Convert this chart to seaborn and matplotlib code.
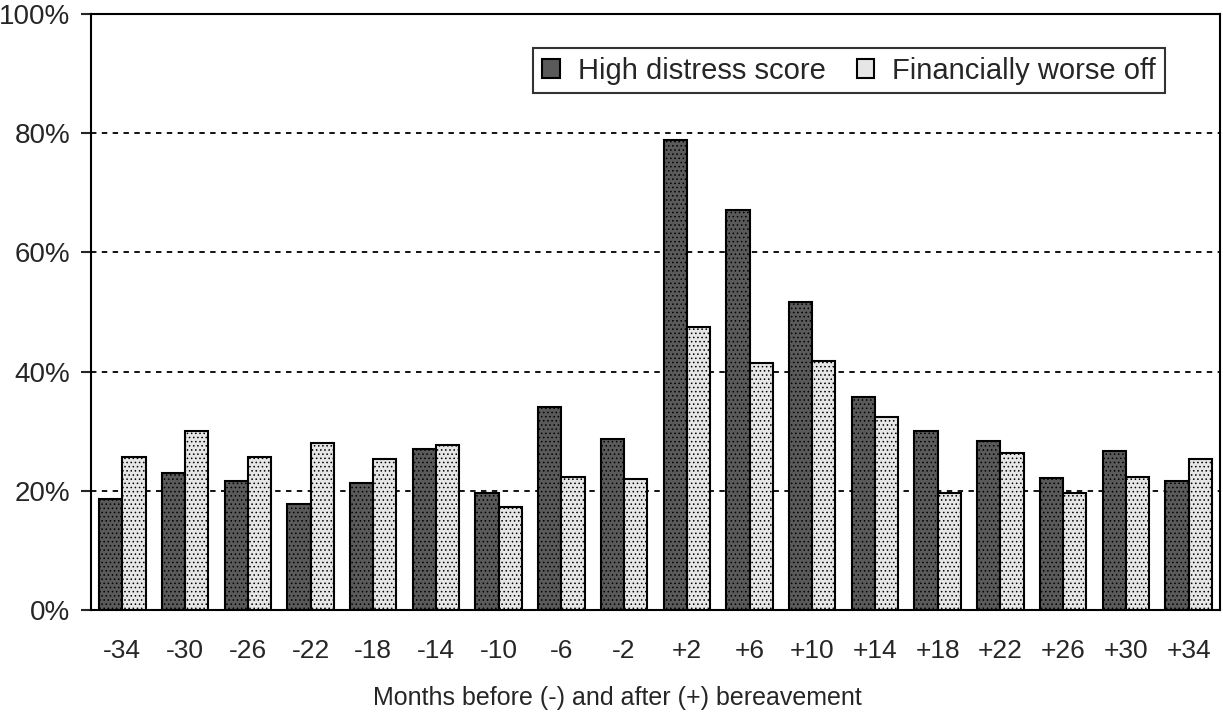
# Distress and finances around bereavement

import numpy as np
import matplotlib.pyplot as plt
import seaborn as sns
import pandas as pd

sns.set_style('ticks')
plt.rcParams['font.family'] = ['Liberation Sans', 'DejaVu Sans']
plt.rcParams['hatch.linewidth'] = 0.6

months = ['-34', '-30', '-26', '-22', '-18', '-14', '-10', '-6', '-2',
          '+2', '+6', '+10', '+14', '+18', '+22', '+26', '+30', '+34']
high_distress = [18.7, 23.0, 21.7, 17.7, 21.3, 27.0, 19.6, 34.0, 28.7,
                 78.8, 67.1, 51.6, 35.7, 30.0, 28.3, 22.2, 26.7, 21.6]
worse_off = [25.7, 30.1, 25.7, 28.1, 25.3, 27.6, 17.2, 22.3, 22.0,
             47.4, 41.4, 41.7, 32.4, 19.6, 26.3, 19.6, 22.3, 25.4]
series = ['High distress score', 'Financially worse off']

df = pd.DataFrame({'month': months * 2,
                   'pct': high_distress + worse_off,
                   'series': [series[0]] * len(months) + [series[1]] * len(months)})

fig = plt.figure(figsize=(12.23, 7.15), dpi=100)
ax = fig.add_axes([0.0744, 0.1469, 0.9231, 0.8335])

pal = {series[0]: '#5a5a5a', series[1]: '#e6e6e6'}
sns.barplot(data=df, x='month', y='pct', hue='series', order=months, hue_order=series,
            palette=pal, width=0.74, gap=0, edgecolor='black', linewidth=1.5,
            saturation=1, ax=ax, zorder=3)

for cont in ax.containers:
    for p in cont:
        p.set_hatch('....')

ax.set_ylim(0, 100)
ax.set_yticks([0, 20, 40, 60, 80, 100])
ax.set_yticklabels(['0%', '20%', '40%', '60%', '80%', '100%'])
ax.yaxis.grid(True, color='black', linestyle=(0, (3, 3)), linewidth=1.3, zorder=0)
ax.set_axisbelow(True)
for s in ax.spines.values():
    s.set_linewidth(1.5)
    s.set_color('black')
ax.tick_params(axis='y', length=7, width=1.5, labelsize=20, pad=8)
ax.tick_params(axis='x', length=0, labelsize=19, pad=21)
ax.set_xlabel('Months before (-) and after (+) bereavement', fontsize=18)
ax.xaxis.set_label_coords(0.466, -0.127)
ax.set_ylabel('')

leg = ax.legend(loc='upper right', bbox_to_anchor=(0.951, 0.943), ncol=2, fontsize=21,
                frameon=True, fancybox=False, handlelength=0.6, handleheight=0.6,
                handletextpad=0.62, columnspacing=1.06, borderpad=0.3, borderaxespad=0)
leg.get_frame().set_edgecolor('black')
leg.get_frame().set_linewidth(1.5)

plt.savefig('out.png', dpi=100)
